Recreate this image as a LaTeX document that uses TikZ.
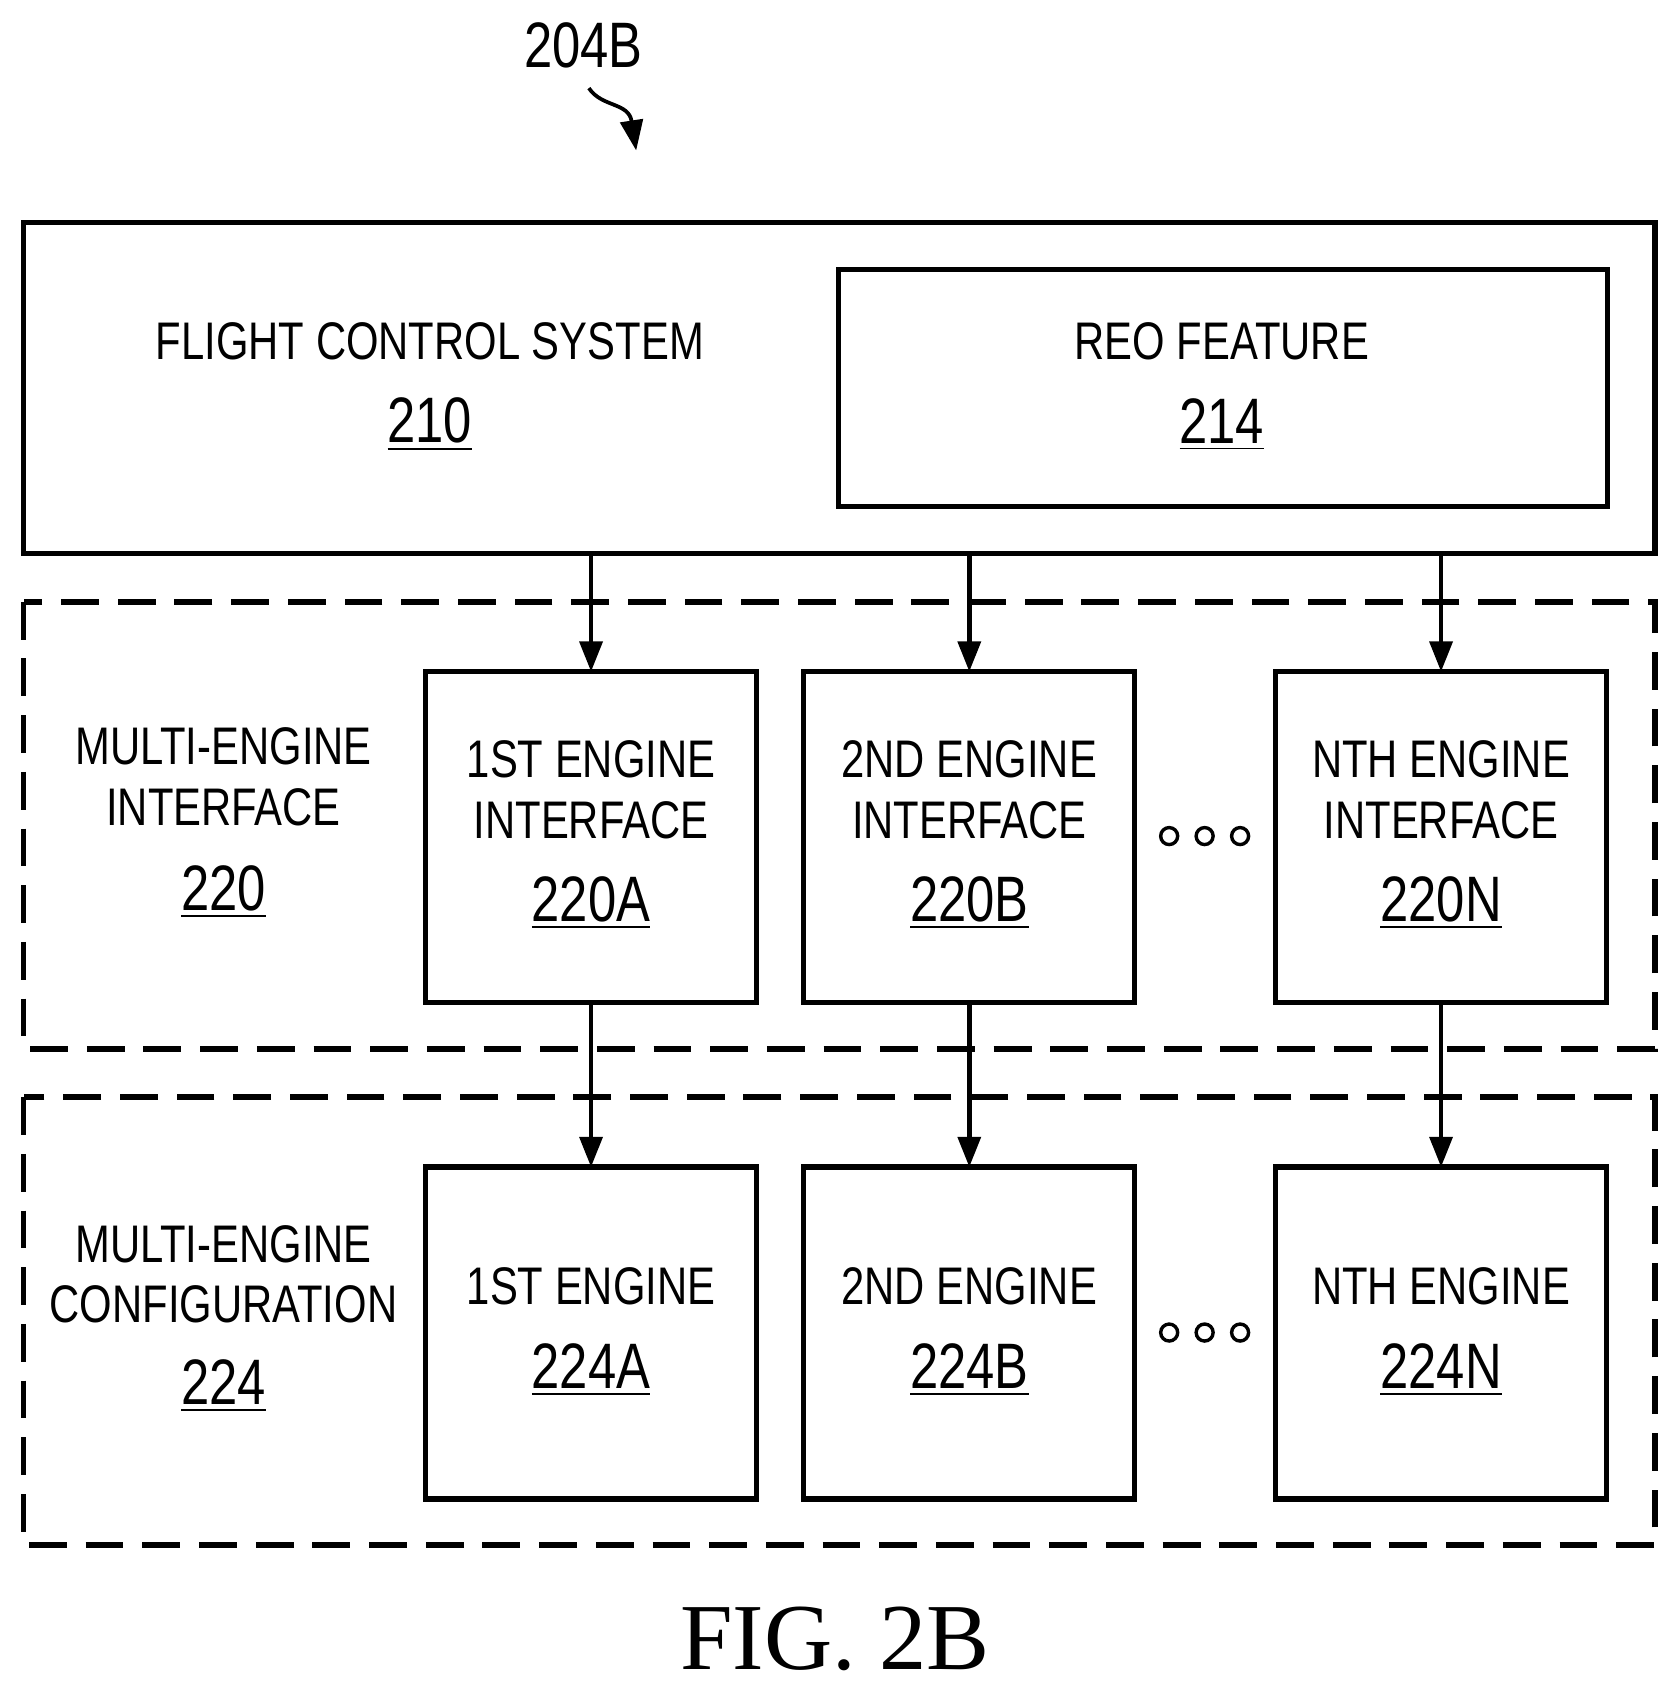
\documentclass[tikz,border=0pt]{standalone}
\usepackage{fontspec}
\setmainfont{Liberation Sans}[FakeStretch=0.79]
\newfontfamily\figfont{Liberation Serif}
\usetikzlibrary{arrows.meta}
\begin{document}
\begin{tikzpicture}[x=0.01cm,y=-0.01cm,
    box/.style={draw, line width=1.4pt},
    group/.style={draw, line width=1.5pt, dash pattern=on 10pt off 5pt},
    lbl/.style={font=\fontsize{14}{16}\selectfont, align=center},
    num/.style={font=\fontsize{17}{19}\selectfont},
    flow/.style={-{Triangle[length=8pt,width=6pt]}, line width=1.2pt},
    dot/.style={draw, line width=0.9pt, circle, inner sep=0pt, minimum size=4.5pt}]
  \useasboundingbox (0,0) rectangle (1560,1568);
  % outer system and feature
  \draw[box] (22,207) rectangle (1540,515);
  \draw[box] (780,251) rectangle (1496,471);
  \node[lbl] (fcs)  at (400,318)  {FLIGHT CONTROL SYSTEM};
  \node[num] (fcsn) at (400,395)  {\underline{210}};
  \node[lbl] (reo)  at (1137,318) {REO FEATURE};
  \node[num] (reon) at (1137,395) {\underline{214}};
  % dashed groups
  \draw[group] (22,560) rectangle (1540,976);
  \draw[group] (22,1021) rectangle (1540,1438);
  \node[lbl] (mei)  at (208,723)  {MULTI-ENGINE\\INTERFACE};
  \node[num] (mein) at (208,830)  {\underline{220}};
  \node[lbl] (mec)  at (208,1186) {MULTI-ENGINE\\CONFIGURATION};
  \node[num] (mecn) at (208,1290) {\underline{224}};
  % engine interface and engine boxes
  \foreach \name/\cx/\ord/\id in {a/550/1ST/A, b/902/2ND/B, n/1341/NTH/N}{
    \draw[box] (\cx-154,625) rectangle (\cx+154,933);
    \draw[box] (\cx-154,1086) rectangle (\cx+154,1395);
    \coordinate (top\name) at (\cx,515);
    \coordinate (ifin\name) at (\cx,625);
    \coordinate (ifout\name) at (\cx,933);
    \coordinate (eng\name) at (\cx,1086);
    \node[lbl] (ift\name) at (\cx,735) {\ord{} ENGINE\\INTERFACE};
    \node[num] (ifn\name) at (\cx,840) {\underline{220\id}};
    \node[lbl] (engt\name) at (\cx,1197) {\ord{} ENGINE};
    \node[num] (engn\name) at (\cx,1275) {\underline{224\id}};
    \draw[flow] (top\name) -- (ifin\name);
    \draw[flow] (ifout\name) -- (eng\name);
  }
  % ellipsis dots
  \foreach \dx in {1088,1121,1154}{
    \node[dot] at (\dx,778) {};
    \node[dot] at (\dx,1240) {};
  }
  % reference label
  \node[num] (ref) at (543,42) {204B};
  \coordinate (refend) at (592,140);
  \draw[-{Triangle[length=8pt,width=6pt]}, line width=1pt] (548,82) .. controls (560,100) and (585,95) .. (refend);
  \node[font=\figfont\fontsize{25}{28}\selectfont] (fig) at (777,1525) {FIG. 2B};
\end{tikzpicture}
\end{document}
